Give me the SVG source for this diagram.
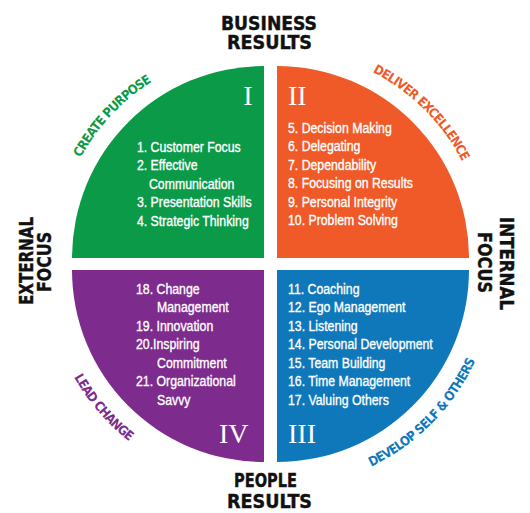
<svg xmlns="http://www.w3.org/2000/svg" width="530" height="513" viewBox="0 0 530 513">
<style>
.item{font-family:"Liberation Sans",Arial,sans-serif;font-size:15px;fill:#fff;stroke:#fff;stroke-width:0.35px}
.rom{font-family:"Liberation Serif",serif;font-size:28px;fill:#fff}
.arc{font-family:"DejaVu Sans Condensed","Liberation Sans",sans-serif;font-size:13px;font-weight:bold;letter-spacing:-0.8px}
.head{font-family:"DejaVu Sans Condensed","Liberation Sans",sans-serif;font-size:20px;font-weight:bold;fill:#111;stroke:#111;stroke-width:0.4px}
</style>
<defs>
<path id="pGreen" d="M 55 258 A 209 209 0 0 1 264 49"/>
<path id="pOrange" d="M 277 49 A 209 209 0 0 1 486 258"/>
<path id="pPurple" d="M 46 270 A 218 218 0 0 0 264 488"/>
<path id="pBlue" d="M 277 488 A 218 218 0 0 0 495 270"/>
</defs>
<rect width="530" height="513" fill="#fff"/>
<g id="q1">
<path d="M 264 258 L 72 258 A 192 192 0 0 1 264 66 Z" fill="#0a9a48"/>
<text class="rom" x="248" y="105" text-anchor="middle">I</text>
<g transform="scale(0.82 1)">
<text class="item" x="167" y="152">1.  Customer Focus</text>
<text class="item" x="167" y="170.5">2. Effective</text>
<text class="item" x="181.7" y="189">Communication</text>
<text class="item" x="167" y="207.5">3. Presentation Skills</text>
<text class="item" x="167" y="226">4. Strategic Thinking</text>
</g>
<text class="arc" fill="#0a9a48"><textPath href="#pGreen" startOffset="47.8%" text-anchor="middle">CREATE PURPOSE</textPath></text>
</g>
<g id="q2">
<path d="M 277 258 L 277 66 A 192 192 0 0 1 469 258 Z" fill="#f05a28"/>
<text class="rom" x="288" y="105">II</text>
<g transform="scale(0.82 1)">
<text class="item" x="351.2" y="133">5. Decision Making</text>
<text class="item" x="351.2" y="151.5">6. Delegating</text>
<text class="item" x="351.2" y="170">7. Dependability</text>
<text class="item" x="351.2" y="188.5">8. Focusing on Results</text>
<text class="item" x="351.2" y="207">9. Personal Integrity</text>
<text class="item" x="351.2" y="225.5">10. Problem Solving</text>
</g>
<text class="arc" fill="#f05a28"><textPath href="#pOrange" startOffset="49.7%" text-anchor="middle">DELIVER EXCELLENCE</textPath></text>
</g>
<g id="q4">
<path d="M 264 270 L 264 462 A 192 192 0 0 1 72 270 Z" fill="#7e2b8e"/>
<text class="rom" x="219" y="443">IV</text>
<g transform="scale(0.82 1)">
<text class="item" x="165.9" y="294">18. Change</text>
<text class="item" x="191.5" y="312.5">Management</text>
<text class="item" x="165.9" y="331">19. Innovation</text>
<text class="item" x="165.9" y="349.5">20.Inspiring</text>
<text class="item" x="191.5" y="368">Commitment</text>
<text class="item" x="165.9" y="386.5">21.  Organizational</text>
<text class="item" x="191.5" y="405">Savvy</text>
</g>
<text class="arc" fill="#7e2b8e"><textPath href="#pPurple" startOffset="45%" text-anchor="middle">LEAD CHANGE</textPath></text>
</g>
<g id="q3">
<path d="M 277 270 L 469 270 A 192 192 0 0 1 277 462 Z" fill="#0f78ba"/>
<text class="rom" x="288" y="443">III</text>
<g transform="scale(0.82 1)">
<text class="item" x="351.2" y="294">11. Coaching</text>
<text class="item" x="351.2" y="312.5">12. Ego Management</text>
<text class="item" x="351.2" y="331">13. Listening</text>
<text class="item" x="351.2" y="349.5">14. Personal Development</text>
<text class="item" x="351.2" y="368">15. Team Building</text>
<text class="item" x="351.2" y="386.5">16. Time Management</text>
<text class="item" x="351.2" y="405">17. Valuing Others</text>
</g>
<text class="arc" fill="#0f78ba"><textPath href="#pBlue" startOffset="50.5%" text-anchor="middle">DEVELOP SELF &amp; OTHERS</textPath></text>
</g>
<g id="business-results">
<text class="head" x="269" y="30" text-anchor="middle" textLength="96" lengthAdjust="spacingAndGlyphs">BUSINESS</text>
<text class="head" x="269.5" y="49" text-anchor="middle" textLength="85" lengthAdjust="spacingAndGlyphs">RESULTS</text>
</g>
<g id="people-results">
<text class="head" x="265.5" y="487" text-anchor="middle" textLength="63" lengthAdjust="spacingAndGlyphs">PEOPLE</text>
<text class="head" x="269.5" y="508" text-anchor="middle" textLength="85" lengthAdjust="spacingAndGlyphs">RESULTS</text>
</g>
<g id="external-focus">
<text class="head" transform="translate(33 261) rotate(-90)" text-anchor="middle" textLength="88" lengthAdjust="spacingAndGlyphs">EXTERNAL</text>
<text class="head" transform="translate(51 262) rotate(-90)" text-anchor="middle" textLength="60" lengthAdjust="spacingAndGlyphs">FOCUS</text>
</g>
<g id="internal-focus">
<text class="head" transform="translate(500 263.5) rotate(90)" text-anchor="middle" textLength="93" lengthAdjust="spacingAndGlyphs">INTERNAL</text>
<text class="head" transform="translate(478 262.5) rotate(90)" text-anchor="middle" textLength="61" lengthAdjust="spacingAndGlyphs">FOCUS</text>
</g>
</svg>
